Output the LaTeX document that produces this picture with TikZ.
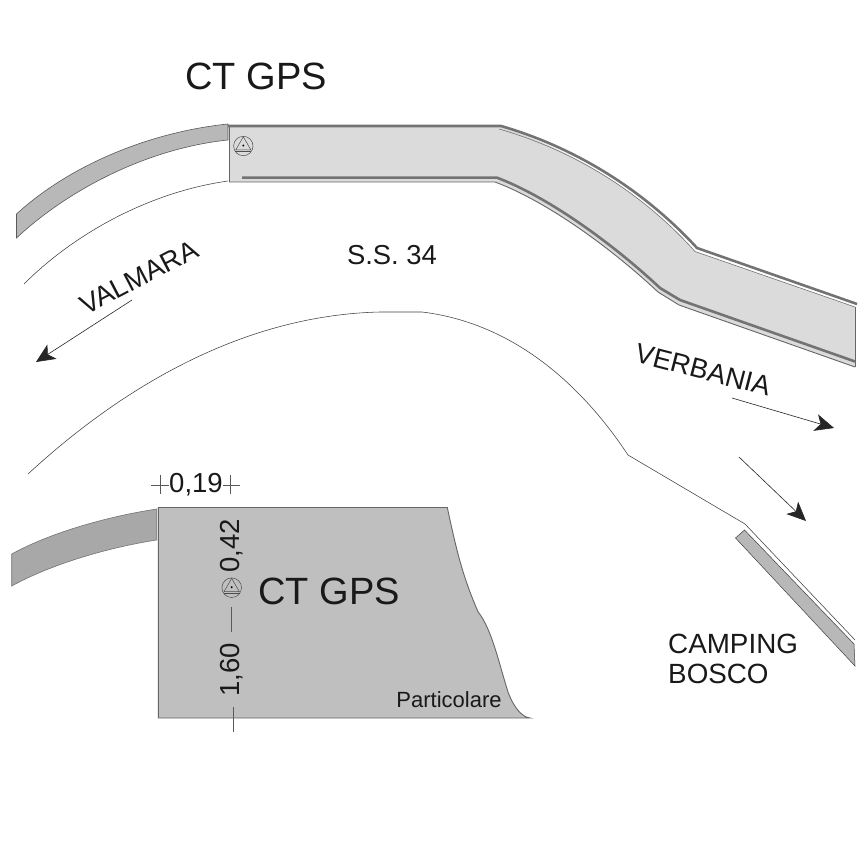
\documentclass[tikz,border=0pt]{standalone}
\usepackage{fontspec}
\setmainfont{Liberation Sans}
\usetikzlibrary{arrows.meta}
\definecolor{roadlight}{gray}{0.86}
\definecolor{stripe}{gray}{0.45}
\definecolor{greyfill}{gray}{0.75}
\definecolor{darkstrip}{gray}{0.72}
\definecolor{darkstriptwo}{gray}{0.66}
\tikzset{
  lab/.style={inner sep=0pt,text=black!90,font=\fontsize{#1}{#1}\selectfont},
  thinline/.style={draw=black!75,line width=0.55pt},
  edgeline/.style={draw=black!60,line width=0.9pt},
  stripeline/.style={draw=stripe,line width=2.6pt},
  arrowline/.style={draw=black!85,line width=0.6pt,-{Stealth[length=19pt,width=17pt,inset=5pt]}},
  dimline/.style={draw=black!65,line width=0.5pt},
  cone/.style={draw=black!70,line width=0.5pt}
}
\newcommand{\gpsmark}[3]{%
  \begin{scope}[shift={(#1,#2)},scale=#3]
    \draw[cone] (0,0) circle (10);
    \draw[cone] (0,-9.5) -- (7.8,4) -- (-7.8,4) -- cycle;
    \draw[cone] (-8.3,5.4) -- (8.3,5.4);
    \fill[black] (0,-0.5) circle (1.1);
  \end{scope}}
\begin{document}
\begin{tikzpicture}[x=1pt,y=-1pt]
\useasboundingbox (0,0) rectangle (866,866);
\fill[white] (0,0) rectangle (866,866);
% main road
\path[fill=roadlight] (229,126) -- (499,126) .. controls (569,149) and (639,189) .. (695,251.5) -- (855,307) -- (855,367) -- (679,305) -- (658,292) .. controls (610,247) and (546,201) .. (495,182) -- (229,182) -- cycle;
\draw[edgeline] (229,182) -- (495,182) .. controls (546,201) and (610,247) .. (658,292) -- (679,305) -- (855,367);
\draw[edgeline] (229,126) -- (229,182);
\draw[edgeline] (855,307) -- (855,367);
\draw[draw=black!55,line width=0.6pt] (499,129) .. controls (569,149) and (639,189) .. (695,251.5) -- (855,307);
\draw[stripeline] (226,126) -- (501,126) .. controls (570,146) and (640,186) .. (697,248) -- (857,304);
\draw[stripeline] (242,177.7) -- (497,177.7) .. controls (548,197) and (612,243) .. (660,288) -- (680,300) -- (855,361.5);
\gpsmark{243.3}{146}{0.97}
% left strip
\path[fill=darkstrip,draw=black!65,line width=0.6pt] (228,124) .. controls (150,132) and (70,165) .. (16.5,214) -- (16.5,238) .. controls (70,188) and (150,148) .. (228,140) -- cycle;
\draw[thinline] (228,181) .. controls (150,192) and (75,233) .. (24,284);
% middle curve
\draw[thinline] (28,474) .. controls (130,380) and (250,315) .. (380,312) -- (422,312) .. controls (505,322) and (575,375) .. (628,455) -- (745,524) -- (855,640);
% camping strip
\path[fill=darkstrip,draw=black!75,line width=0.5pt] (735.5,538) -- (744.5,530) -- (854,644) -- (855,666) -- cycle;
% labels top
\node[lab=38] (ctgps) at (256,76) {CT GPS};
\node[lab=27.4] (ss) at (392,255) {S.S. 34};
\node[lab=27.4,rotate=27.5] (valmara) at (139,277) {VALMARA};
\node[lab=27.4,rotate=-14.5] (verbania) at (703,370) {VERBANIA};
\coordinate (va) at (132,300);
\coordinate (vb) at (36,362);
\draw[arrowline] (va) -- (vb);
\coordinate (ea) at (732,398);
\coordinate (eb) at (834,428);
\draw[arrowline] (ea) -- (eb);
\coordinate (ca) at (739,457);
\coordinate (cb) at (806,521);
\draw[arrowline] (ca) -- (cb);
\node[lab=27.8,anchor=west] (camping) at (668,644) {CAMPING};
\node[lab=27.8,anchor=west] (bosco) at (668,674) {BOSCO};
% detail
\path[fill=greyfill,draw=black!60,line width=0.9pt] (158.3,507.5) -- (447.3,507.5) .. controls (456,548) and (462,575) .. (478,611.7) .. controls (492,630) and (498,660) .. (508,692) .. controls (514,708) and (522,717) .. (530,718) -- (158.3,718) -- cycle;
\path[fill=darkstriptwo,draw=black!55,line width=0.6pt] (156.7,509) .. controls (105,517) and (50,533) .. (11.7,554) -- (11.7,586) .. controls (50,565) and (105,548) .. (156.7,540) -- cycle;
\node[lab=38] (ctgps2) at (329,591) {CT GPS};
\node[lab=22] (part) at (449,700) {Particolare};
\node[lab=27.5] (d019) at (196,485) {0,19};
\node[lab=27.5,rotate=90] (d042) at (232,546) {0,42};
\node[lab=27.5,rotate=90] (d160) at (232,670) {1,60};
\gpsmark{231.7}{587.7}{0.98}
\coordinate (h1) at (151,485);
\coordinate (h2) at (169,485);
\coordinate (h3) at (223,485);
\coordinate (h4) at (240,485);
\coordinate (t1) at (160.7,475);
\coordinate (t2) at (160.7,494);
\coordinate (t3) at (230,475);
\coordinate (t4) at (230,494);
\draw[dimline] (h1) -- (h2);
\draw[dimline] (h3) -- (h4);
\draw[dimline] (t1) -- (t2);
\draw[dimline] (t3) -- (t4);
\coordinate (m1) at (231,607);
\coordinate (m2) at (231,632);
\draw[dimline] (m1) -- (m2);
\coordinate (b1) at (233,707);
\coordinate (b2) at (233,732);
\draw[dimline] (b1) -- (b2);
\end{tikzpicture}
\end{document}
